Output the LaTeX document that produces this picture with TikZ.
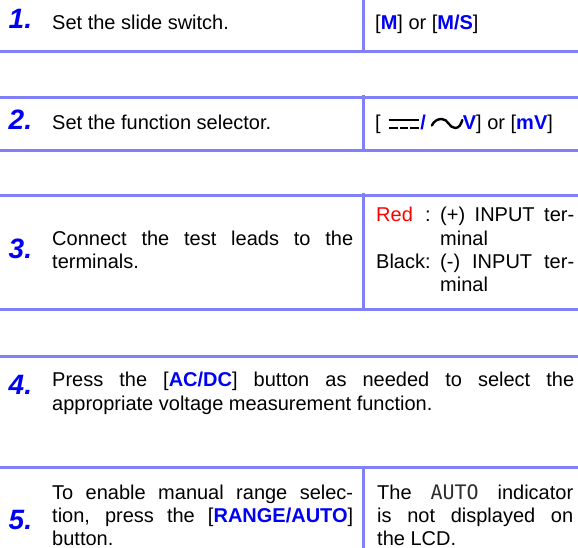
\documentclass[tikz,border=0pt]{standalone}
\usepackage{fontspec}
\setmainfont{Liberation Sans}
\newfontfamily\lcdfont{DejaVu Sans Mono}
\definecolor{lineblue}{RGB}{128,128,248}
\definecolor{kwblue}{RGB}{0,0,245}
\definecolor{lcdgray}{RGB}{45,45,45}
\tolerance=10000
\hbadness=10000
\hyphenpenalty=10000
\newcommand\kw[1]{\textcolor{kwblue}{\bfseries #1}}
\newcommand\lcdauto{{\lcdfont\color{lcdgray}AUTO}}
\newcommand\dcsym{\tikz[baseline=0pt,x=1pt,y=1pt,line width=2.4pt]{%
  \useasboundingbox (0,0) rectangle (34,12);
  \draw[black] (2.2,9.7)--(32.2,9.7);
  \draw[black] (2.2,2)--(11.2,2) (13.9,2)--(21.2,2) (23.9,2)--(32.2,2);}}
\newcommand\acsym{\tikz[baseline=0pt,x=1pt,y=1pt,line width=2.4pt]{%
  \useasboundingbox (0,0) rectangle (37,12);
  \draw[black,line cap=round] (6,4.5) to[out=65,in=180] (16,11) to[out=0,in=180] (29.4,2) to[out=0,in=250] (36.5,10);}}
\tikzset{
  rule/.style={draw=lineblue, line width=2.7pt},
  num/.style={anchor=base west, inner sep=0pt, text=kwblue,
    font=\fontsize{28}{30}\selectfont\bfseries\itshape},
  txt/.style={anchor=base west, inner sep=0pt, font=\fontsize{20}{23.3}\selectfont},
  para/.style={txt, text width=#1, align=justify},
}
\begin{document}
\begin{tikzpicture}[x=1pt,y=-1pt]
\fill[white] (0,0) rectangle (578,548);
\useasboundingbox (0,0) rectangle (578,548);

% horizontal rules
\foreach \yy in {51.3,97.3,150.3,195.3,309.3,356.3,467.3}
  \draw[rule] (0,\yy) -- (578,\yy);
% vertical rules
\draw[rule] (363.7,0) -- (363.7,52.65);
\draw[rule] (363.7,95) -- (363.7,151.65);
\draw[rule] (363.7,193.5) -- (363.7,310.65);
\draw[rule] (363.7,465.5) -- (363.7,548);

% row 1
\node[num] (n1) at (8.5,29) {1.};
\node[txt] (t1) at (52,29.3) {Set the slide switch.};
\node[txt] (r1) at (375,29.3) {[\kw{M}] or [\kw{M/S}]};

% row 2
\node[num] (n2) at (8.5,129.7) {2.};
\node[txt] (t2) at (52,130) {Set the function selector.};
\node[txt] (r2) at (375,130) {[ \dcsym\kw{/}\acsym\kw{V}] or [\kw{mV}]};

% row 3
\node[num] (n3) at (8.5,258.3) {3.};
\node[para=301pt] (t3) at (52,245) {Connect the test leads to the\linebreak terminals.};
\node[txt] (l3a) at (376,221.7) {\rlap{\textcolor{red}{Red}}\hphantom{Black}:};
\node[txt] (l3b) at (376,268.3) {Black:};
\node[para=134pt] (r3a) at (440,221.7) {(+) INPUT ter-\linebreak minal};
\node[para=134pt] (r3b) at (440,268.3) {(-) INPUT ter-\linebreak minal};

% row 4
\node[num] (n4) at (8.5,394) {4.};
\node[para=522pt] (t4) at (52,386.7) {Press the [\kw{AC/DC}] button as needed to select the\linebreak appropriate voltage measurement function.};

% row 5
\node[num] (n5) at (8.5,529) {5.};
\node[para=301pt] (t5) at (52,499.3) {To enable manual range selec-\linebreak tion, press the [\kw{RANGE/AUTO}]\linebreak button.};
\node[para=196pt] (r5) at (377,499.3) {The \lcdauto{} indicator\linebreak is not displayed on\linebreak the LCD.};
\end{tikzpicture}
\end{document}
